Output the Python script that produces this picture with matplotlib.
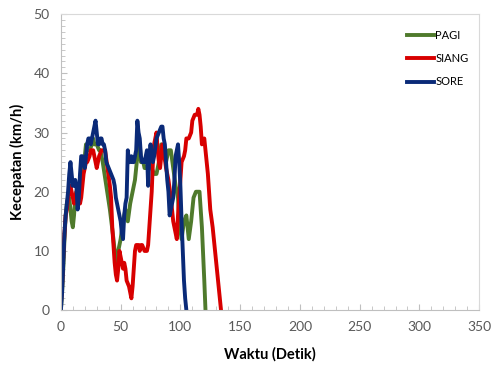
import matplotlib.pyplot as plt
from matplotlib.ticker import MultipleLocator

# data (waktu detik, kecepatan km/h)
t_pagi = [0, 1, 2, 3, 4, 5, 6, 7, 8, 9, 10, 11, 12, 13, 14, 16, 18, 19, 20, 21, 22, 24, 26, 27, 28, 30,
          32, 33, 35, 38, 41, 44, 46, 47, 48, 50, 52, 54, 56, 58, 60, 62, 64, 66, 67, 69, 70, 72, 74, 76,
          78, 80, 82, 84, 86, 88, 90, 92, 94, 96, 98, 99, 101, 103, 105, 107, 109, 111, 113, 116, 118, 120, 121]
v_pagi = [0, 3, 7, 12, 16, 18, 19, 19, 17, 15, 14, 16, 19, 20, 21, 21, 23, 24, 26, 28, 27, 27, 28, 29, 28, 28,
          27, 27, 25, 21, 17, 12, 8, 8, 10, 12, 15, 17, 15, 18, 20, 22, 26, 28, 25, 25, 24, 24, 25, 24,
          23, 23, 25, 28, 26, 25, 27, 27, 24, 21, 19, 15, 12, 15, 16, 12, 15, 19, 20, 20, 14, 5, 0]

t_siang = [0, 1, 2, 3, 4, 5, 6, 7, 8, 9, 10, 11, 12, 13, 14, 15, 16, 17, 18, 19, 20, 21, 22, 24, 25, 27,
           28, 30, 31, 32, 34, 36, 37, 39, 41, 42, 43, 44, 45, 46, 47, 48, 49, 50, 51, 52, 53, 54, 55, 57,
           58, 59, 60, 61, 62, 63, 65, 66, 67, 68, 70, 72, 73, 74, 75, 76, 77, 78, 79, 80, 81, 82, 83, 84,
           85, 86, 88, 90, 92, 94, 95, 96, 97, 98, 99, 100, 101, 103, 104, 105, 107, 109, 110, 112, 114,
           115, 116, 117, 118, 120, 121, 122, 123, 125, 127, 128, 130, 132, 134]
v_siang = [1, 4, 9, 13, 16, 17, 19, 20, 21, 20, 19, 18, 19, 20, 20, 19, 18, 19, 21, 23, 24, 25, 25, 26, 27, 27,
           26, 24, 25, 26, 27, 27, 27, 24, 21, 19, 14, 11, 8, 6, 5, 7, 10, 9, 8, 7, 8, 7, 5, 4,
           3, 2, 4, 7, 10, 11, 11, 10, 11, 11, 10, 10, 11, 14, 17, 20, 25, 28, 29, 30, 27, 25, 24, 26,
           28, 27, 24, 22, 19, 15, 14, 13, 12, 16, 19, 22, 25, 26, 27, 29, 29, 30, 32, 33, 33,
           34, 33, 31, 28, 29, 27, 25, 23, 17, 14, 12, 8, 4, 0]

t_sore = [0, 1, 2, 3, 4, 5, 6, 7, 8, 9, 10, 11, 12, 13, 14, 15, 16, 17, 18, 19, 20, 21, 22, 23, 24, 25,
          26, 27, 28, 29, 30, 31, 32, 33, 34, 35, 36, 37, 38, 40, 42, 44, 45, 46, 47, 48, 49, 50, 51, 52,
          53, 54, 55, 56, 57, 58, 59, 60, 61, 62, 63, 64, 65, 66, 67, 68, 69, 70, 71, 72, 73, 74, 75, 76,
          77, 78, 80, 82, 84, 85, 86, 87, 88, 89, 90, 91, 92, 93, 94, 95, 96, 97, 98, 99, 100, 101, 102,
          103, 104, 105]
v_sore = [0, 3, 8, 13, 16, 18, 20, 23, 25, 23, 21, 21, 22, 21, 17, 19, 23, 26, 26, 25, 24, 26, 28, 29, 29, 28,
          29, 30, 31, 32, 30, 28, 28, 29, 29, 28, 28, 27, 25, 24, 23, 22, 21, 19, 18, 17, 16, 15, 13, 12,
          16, 18, 19, 27, 25, 25, 26, 25, 25, 26, 27, 32, 30, 29, 26, 25, 25, 25, 26, 27, 21, 26, 28, 26,
          25, 26, 29, 30, 31, 31, 29, 28, 25, 22, 20, 16, 17, 18, 19, 22, 26, 27, 28, 25, 21, 15, 10,
          5, 2, 0]

plt.rcParams['font.family'] = ['Lato', 'DejaVu Sans']

fig = plt.figure(figsize=(4.95, 3.71), dpi=100)
ax = fig.add_axes([0.123, 0.164, 0.845, 0.798])

ax.plot(t_pagi, v_pagi, color='#4f7a2c', lw=2.8, label='PAGI', solid_joinstyle='round')
ax.plot(t_siang, v_siang, color='#d80000', lw=2.8, label='SIANG', solid_joinstyle='round')
ax.plot(t_sore, v_sore, color='#0a2a78', lw=2.8, label='SORE', solid_joinstyle='round')

ax.set_xlim(0, 350)
ax.set_ylim(0, 50)
ax.xaxis.set_major_locator(MultipleLocator(50))
ax.xaxis.set_minor_locator(MultipleLocator(10))
ax.yaxis.set_major_locator(MultipleLocator(10))
ax.yaxis.set_minor_locator(MultipleLocator(1))
ax.tick_params(which='both', direction='in', color='#bfbfbf', labelcolor='#595959', labelsize=10)
ax.tick_params(which='major', length=4, pad=8)
ax.tick_params(which='minor', length=3)

for s in ax.spines.values():
    s.set_color('#d9d9d9')
ax.spines['left'].set_color('#bfbfbf')
ax.spines['bottom'].set_color('#bfbfbf')

ax.set_xlabel('Waktu (Detik)', fontsize=10.5, fontweight='bold', labelpad=10)
ax.set_ylabel('Kecepatan (km/h)', fontsize=10.5, fontweight='bold', labelpad=6)

ax.legend(loc='upper left', bbox_to_anchor=(0.815, 0.965), frameon=False, fontsize=8,
          handlelength=2.4, handletextpad=0.1, labelspacing=1.1, borderpad=0)

fig.savefig('out.png', dpi=100)
